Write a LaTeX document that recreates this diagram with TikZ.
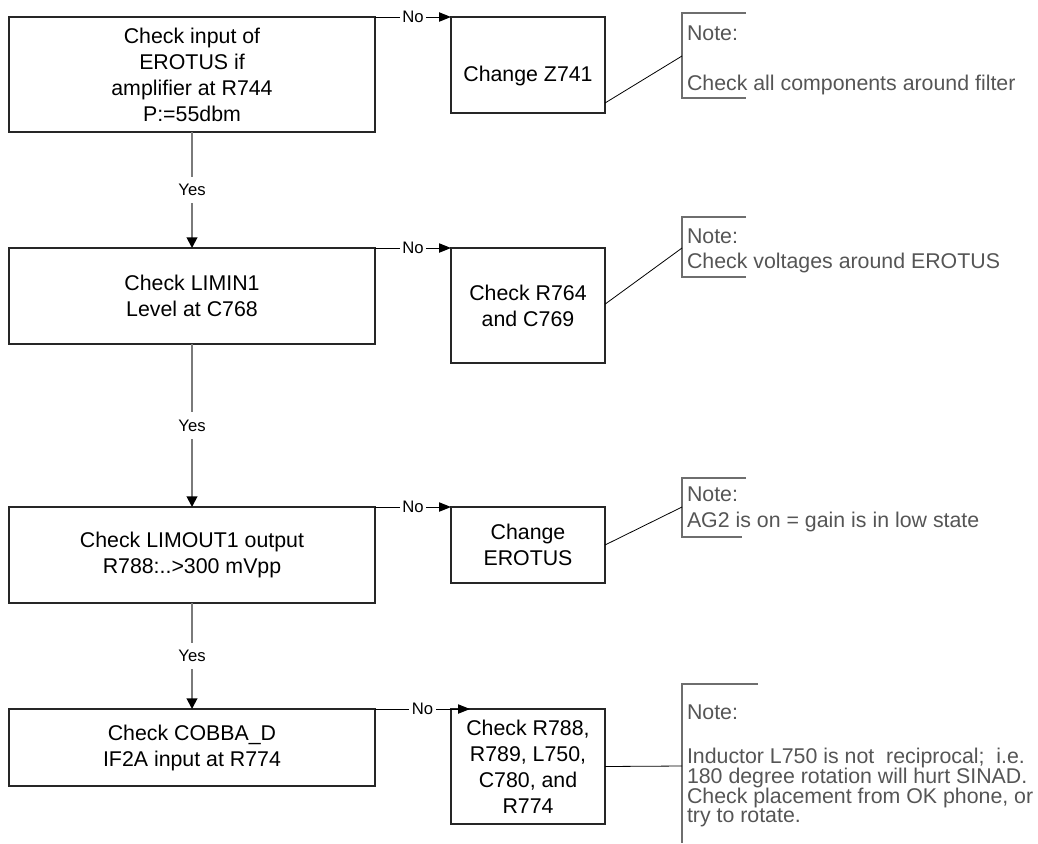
\documentclass[tikz,border=0pt]{standalone}
\usepackage{fontspec}
\setmainfont{Liberation Sans}
\usetikzlibrary{arrows.meta}
\definecolor{notegray}{HTML}{555555}
\definecolor{bracketgray}{HTML}{6E6E6E}
\definecolor{yesgray}{HTML}{7A7A7A}
\begin{document}
\begin{tikzpicture}[x=0.75pt,y=-0.75pt,
  every node/.style={inner sep=0pt, outer sep=0pt},
  box/.style 2 args={draw=black!85, line width=0.8pt,
    minimum width=#1*0.75pt, minimum height=#2*0.75pt,
    align=center, font=\fontsize{16}{19.5}\selectfont},
  boxtext/.style={align=center, font=\fontsize{16}{19.5}\selectfont},
  notext/.style={anchor=base west, text=notegray, font=\fontsize{16}{19.5}\selectfont},
  bracket/.style={draw=bracketgray, line width=1pt},
  noline/.style={draw=black, line width=0.75pt, -{Triangle[length=9pt,width=7pt]}},
  yesline/.style={draw=yesgray, line width=1.4pt, -{Triangle[length=8pt,width=8pt,color=black]}},
  noteline/.style={draw=black, line width=0.6pt},
  lbl/.style={fill=white, font=\fontsize{12.5}{14}\selectfont, inner xsep=1.8pt, inner ysep=5.5pt}
]
\useasboundingbox (0,0) rectangle (1038,843);

% main check steps
\node[box={366}{115}] (b1) at (192,74.5) {Check input of\\EROTUS if\\amplifier at R744\\P:=55dbm};
\node[box={366}{96}]  (b2) at (192,296)  {Check LIMIN1\\Level at C768};
\node[box={366}{96}]  (b3) at (192,555)  {Check LIMOUT1 output\\R788:..>300 mVpp};
\node[box={366}{77}]  (b4) at (192,747.5) {Check COBBA\_D\\IF2A input at R774};

% actions on failure
\node[box={154}{96}]  (a1) at (528,65) {};
\node[boxtext] (a1t) at (528,76) {Change Z741};
\node[box={154}{115}] (a2) at (528,305.5) {Check R764\\and C769};
\node[box={154}{76}]  (a3) at (528,545) {Change\\EROTUS};
\node[box={154}{115}] (a4) at (528,766.5) {Check R788,\\R789, L750,\\C780, and\\R774};

% "Yes" path
\draw[yesline] (b1.south) -- node[lbl] (y1) {Yes} (b2.north);
\draw[yesline] (b2.south) -- node[lbl] (y2) {Yes} (b3.north);
\draw[yesline] (b3.south) -- node[lbl] (y3) {Yes} (b4.north);

% "No" branches
\coordinate (t4) at (470,709);
\draw[noline] (b1.north east) -- node[lbl] (x1) {No} (a1.north west);
\draw[noline] (b2.north east) -- node[lbl] (x2) {No} (a2.north west);
\draw[noline] (b3.north east) -- node[lbl] (x3) {No} (a3.north west);
\draw[noline] (b4.north east) -- node[lbl] (x4) {No} (t4);

% note brackets
\draw[bracket] (746,13) -- (682,13) -- (682,98) -- (746,98);
\draw[bracket] (746,217) -- (682,217) -- (682,277) -- (746,277);
\draw[bracket] (746,478) -- (682,478) -- (682,537) -- (742,537);
\draw[bracket] (758,684) -- (682,684) -- (682,843);

\coordinate (n1) at (682,56);
\coordinate (n2) at (682,248);
\coordinate (n3) at (682,507);
\coordinate (n4) at (682,766);

\draw[noteline] ([yshift=-28.5pt]a1.east) -- (n1);
\draw[noteline] ([yshift=1pt]a2.east) -- (n2);
\draw[noteline] (a3.east) -- (n3);
\draw[noteline] (a4.east) -- (n4);

% note texts
\node[notext] (n1a) at (687,40) {Note:};
\node[notext] (n1b) at (687,90) {Check all components around filter};
\node[notext] (n2a) at (687,243) {Note:};
\node[notext] (n2b) at (687,268) {Check voltages around EROTUS};
\node[notext] (n3a) at (687,501) {Note:};
\node[notext] (n3b) at (687,527) {AG2 is on = gain is in low state};
\node[notext] (n4a) at (687,719) {Note:};
\node[notext] (n4b) at (687,763.5) {Inductor L750 is not\ \ reciprocal;\ \ i.e.};
\node[notext] (n4c) at (687,783.5) {180 degree rotation will hurt SINAD.};
\node[notext] (n4d) at (687,803) {Check placement from OK phone, or};
\node[notext] (n4e) at (687,822.5) {try to rotate.};
\end{tikzpicture}
\end{document}
